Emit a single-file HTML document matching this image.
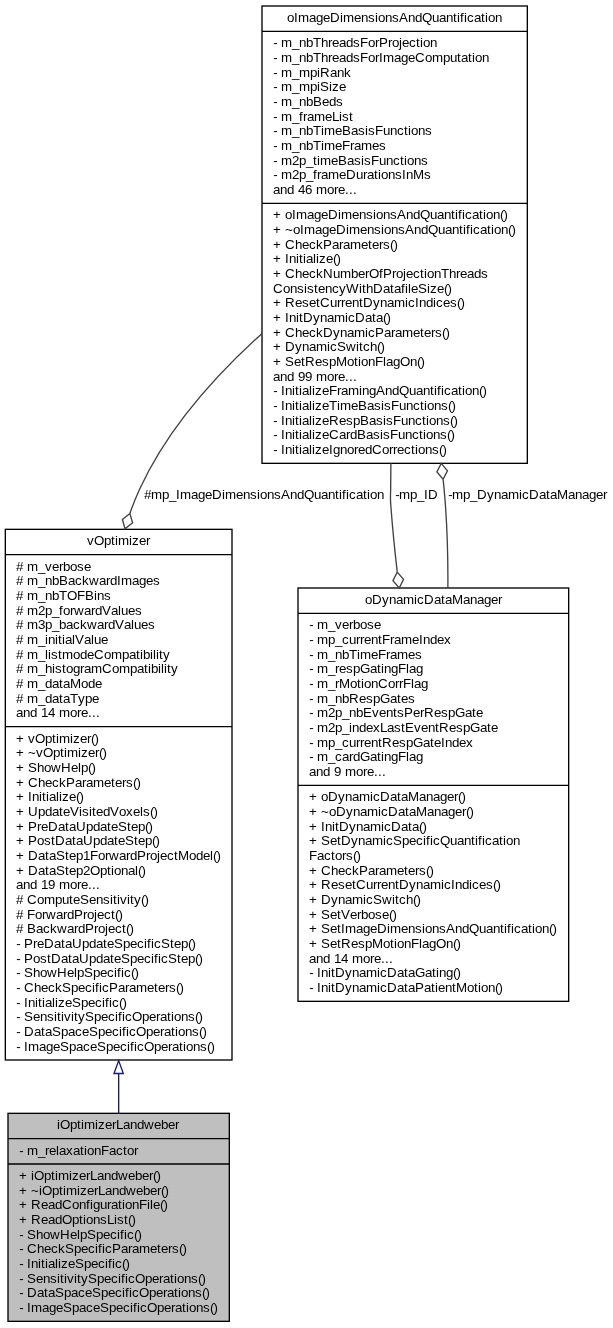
<!DOCTYPE html>
<html lang="en">
<head>
<meta charset="utf-8">
<title>iOptimizerLandweber collaboration graph</title>
<style>
html,body{margin:0;padding:0;background:#fff;}
body{width:613px;height:1328px;overflow:hidden;}
svg{display:block;will-change:transform;}
svg .t{filter:grayscale(1);}
svg text{font-family:"Liberation Sans",sans-serif;font-size:13.333px;fill:#000;white-space:pre;font-kerning:none;font-variant-ligatures:none;}
</style>
</head>
<body>
<svg width="613" height="1328" viewBox="0 0 613 1328">
<rect x="0" y="0" width="613" height="1328" fill="#fff"/>
<g>
<rect x="8.00" y="1113.33" width="221.33" height="208.00" fill="#bfbfbf" stroke="#000" stroke-width="1.333"/>
<line x1="8.00" y1="1138.66" x2="229.33" y2="1138.66" stroke="#000" stroke-width="1.333"/>
<line x1="8.00" y1="1164.00" x2="229.33" y2="1164.00" stroke="#000" stroke-width="1.333"/>
</g>
<g>
<rect x="5.33" y="529.33" width="226.67" height="530.67" fill="#fff" stroke="#000" stroke-width="1.333"/>
<line x1="5.33" y1="554.66" x2="232.00" y2="554.66" stroke="#000" stroke-width="1.333"/>
<line x1="5.33" y1="726.66" x2="232.00" y2="726.66" stroke="#000" stroke-width="1.333"/>
</g>
<g>
<rect x="262.00" y="6.00" width="265.33" height="457.33" fill="#fff" stroke="#000" stroke-width="1.333"/>
<line x1="262.00" y1="31.33" x2="527.33" y2="31.33" stroke="#000" stroke-width="1.333"/>
<line x1="262.00" y1="203.33" x2="527.33" y2="203.33" stroke="#000" stroke-width="1.333"/>
</g>
<g>
<rect x="298.00" y="588.00" width="270.67" height="413.33" fill="#fff" stroke="#000" stroke-width="1.333"/>
<line x1="298.00" y1="613.33" x2="568.67" y2="613.33" stroke="#000" stroke-width="1.333"/>
<line x1="298.00" y1="785.33" x2="568.67" y2="785.33" stroke="#000" stroke-width="1.333"/>
</g>
<g>
<path d="M118.67,1073.5 L118.67,1113.33" fill="none" stroke="#191970" stroke-width="1.333"/>
<polygon points="114.0,1073.5 118.67,1060.6 123.33,1073.5" fill="none" stroke="#191970" stroke-width="1.333"/>
<path d="M 261.83,333.64 C 214.85,376.01 166.93,429.62 139.48,489.56 135.96,497.24 132.80,505.15 129.95,513.21" fill="none" stroke="#404040" stroke-width="1.333"/>
<polygon points="129.94,513.53 122.41,519.51 125.02,528.76 132.55,522.79 129.94,513.53" fill="none" stroke="#404040" stroke-width="1.333"/>
<path d="M 390.89,463.35 C 390.81,471.82 390.73,480.22 390.67,488.46 390.61,495.11 390.19,496.78 390.67,503.41 392.27,525.56 394.53,548.59 397.20,571.56" fill="none" stroke="#404040" stroke-width="1.333"/>
<polygon points="397.27,572.08 392.95,580.67 399.21,587.96 403.53,579.37 397.27,572.08" fill="none" stroke="#404040" stroke-width="1.333"/>
<path d="M 447.88,587.92 C 448.09,554.52 447.07,520.35 444.00,488.16 443.73,485.32 443.44,482.47 443.15,479.61" fill="none" stroke="#404040" stroke-width="1.333"/>
<polygon points="443.11,479.28 447.48,470.72 441.25,463.39 436.88,471.95 443.11,479.28" fill="none" stroke="#404040" stroke-width="1.333"/>
</g>
<g class="t">
<g>
<text x="57 60 70 77 81 84 95 98 105 112 116 123 130 137 144 154 161 168 175" y="1129">iOptimizerLandweber</text>
<text x="19.25 23 27 38 45 49 56 59 66 73 80 84 87 94 101 109 116 123 127 134" y="1155">- m_relaxationFactor</text>
<text x="19 27 31 34 44 51 55 58 69 72 79 86 90 97 104 111 118 128 135 142 149 153 156.5" y="1180">+ iOptimizerLandweber()</text>
<text x="19 27 31 39 42 52 59 63 66 77 80 87 94 98 105 112 119 126 136 143 150 157 161 164.5" y="1195">+ ~iOptimizerLandweber()</text>
<text x="19 27 31 41 48 55 62 72 79 86 90 93 100 107 111 118 122 125 132 139 147 150 153 160 163.5" y="1209">+ ReadConfigurationFile()</text>
<text x="19 27 31 41 48 55 62 72 79 83 86 93 100 107 114 117 124 128 131.5" y="1224">+ ReadOptionsList()</text>
<text x="19.25 23 27 36 43 50 60 70 77 80 87 96 103 110 117 120 124 127 134 137.5" y="1239">- ShowHelpSpecific()</text>
<text x="19.25 23 27 37 44 51 58 65 74 81 88 95 98 102 105 112 121 128 132 139 150 157 161 168 172 179 182.5" y="1253">- CheckSpecificParameters()</text>
<text x="19.25 23 27 31 38 41 45 48 55 58 61 68 75 84 91 98 105 108 112 115 122 125.5" y="1268">- InitializeSpecific()</text>
<text x="19.25 23 27 36 43 50 57 60 64 67 74 77 81 88 97 104 111 118 121 125 128 135 145 152 159 163 170 174 177 184 191 198 201.5" y="1283">- SensitivitySpecificOperations()</text>
<text x="19.25 23 27 37 44 48 55 64 71 78 85 92 101 108 115 122 125 129 132 139 149 156 163 167 174 178 181 188 195 202 205.5" y="1297">- DataSpaceSpecificOperations()</text>
<text x="19.25 23 27 31 42 49 56 63 72 79 86 93 100 109 116 123 130 133 137 140 147 157 164 171 175 182 186 189 196 203 210 213.5" y="1312">- ImageSpaceSpecificOperations()</text>
</g>
<g>
<text x="87 94 104 111 115 118 129 132 139 146" y="545">vOptimizer</text>
<text x="16 23 27 38 45 52 59 63 70 77 84" y="571"># m_verbose</text>
<text x="16 23 27 38 45 52 59 68 75 82 89 99 106 110 117 121 132 139 146 153" y="585"># m_nbBackwardImages</text>
<text x="16 23 27 38 45 52 59 67 77 85 94 97 104" y="600"># m_nbTOFBins</text>
<text x="16 23 27 38 45 52 59 63 70 74 84 91 95 102 111 118 121 128 135" y="615"># m2p_forwardValues</text>
<text x="16 23 27 38 45 52 59 66 73 80 87 97 104 108 115 124 131 134 141 148" y="629"># m3p_backwardValues</text>
<text x="16 23 27 38 45 48 55 58 62 65 72 75 84 91 94 101" y="644"># m_initialValue</text>
<text x="16 23 27 38 45 48 51 58 62 73 80 87 94 104 111 122 129 136 140 143 150 153 156 159 163" y="659"># m_listmodeCompatibility</text>
<text x="16 23 27 38 45 52 55 62 66 73 80 84 91 102 112 119 130 137 144 148 151 158 161 164 167 171" y="673"># m_histogramCompatibility</text>
<text x="16 23 27 38 45 52 59 63 70 81 88 95" y="688"># m_dataMode</text>
<text x="16 23 27 38 45 52 59 63 70 78 85 92" y="703"># m_dataType</text>
<text x="16 23 30 37 41 48 55 59 70 77 81 88 92 96" y="717">and 14 more...</text>
<text x="16 24 28 35 45 52 56 59 70 73 80 87 91 94.5" y="743">+ vOptimizer()</text>
<text x="16 24 28 36 43 53 60 64 67 78 81 88 95 99 102.5" y="757">+ ~vOptimizer()</text>
<text x="16 24 28 37 44 51 61 71 78 81 88 91.5" y="772">+ ShowHelp()</text>
<text x="16 24 28 38 45 52 59 66 75 82 86 93 104 111 115 122 126 133 136.5" y="787">+ CheckParameters()</text>
<text x="16 24 28 32 39 42 46 49 56 59 62 69 76 79.5" y="801">+ Initialize()</text>
<text x="16 24 28 38 45 52 59 63 70 79 82 89 92 96 103 110 119 126 133 140 143 150 153.5" y="816">+ UpdateVisitedVoxels()</text>
<text x="16 24 28 37 41 48 58 65 69 76 86 93 100 107 111 118 127 131 138 145 148.5" y="831">+ PreDataUpdateStep()</text>
<text x="16 24 28 37 44 51 55 65 72 76 83 93 100 107 114 118 125 134 138 145 152 155.5" y="845">+ PostDataUpdateStep()</text>
<text x="16 24 28 38 45 49 56 65 69 76 83 90 98 105 109 119 126 130 137 146 150 157 160 167 174 178 189 196 203 210 213 216.5" y="860">+ DataStep1ForwardProjectModel()</text>
<text x="16 24 28 38 45 49 56 65 69 76 83 90 100 107 111 114 121 128 135 138 141.5" y="875">+ DataStep2Optional()</text>
<text x="16 23 30 37 41 48 55 59 70 77 81 88 92 96" y="889">and 19 more...</text>
<text x="16 23 27 37 44 55 62 69 73 80 89 96 103 110 113 117 120 127 130 134 141 144.5" y="904"># ComputeSensitivity()</text>
<text x="16 23 27 35 42 46 56 63 67 74 83 87 94 97 104 111 115 118.5" y="919"># ForwardProject()</text>
<text x="16 23 27 36 43 50 57 67 74 78 85 94 98 105 108 115 122 126 129.5" y="933"># BackwardProject()</text>
<text x="16.25 20 24 33 37 44 54 61 65 72 82 89 96 103 107 114 123 130 137 144 147 151 154 161 170 174 181 188 191.5" y="948">- PreDataUpdateSpecificStep()</text>
<text x="16.25 20 24 33 40 47 51 61 68 72 79 89 96 103 110 114 121 130 137 144 151 154 158 161 168 177 181 188 195 198.5" y="963">- PostDataUpdateSpecificStep()</text>
<text x="16.25 20 24 33 40 47 57 67 74 77 84 93 100 107 114 117 121 124 131 134.5" y="977">- ShowHelpSpecific()</text>
<text x="16.25 20 24 34 41 48 55 62 71 78 85 92 95 99 102 109 118 125 129 136 147 154 158 165 169 176 179.5" y="992">- CheckSpecificParameters()</text>
<text x="16.25 20 24 28 35 38 42 45 52 55 58 65 72 81 88 95 102 105 109 112 119 122.5" y="1007">- InitializeSpecific()</text>
<text x="16.25 20 24 33 40 47 54 57 61 64 71 74 78 85 94 101 108 115 118 122 125 132 142 149 156 160 167 171 174 181 188 195 198.5" y="1021">- SensitivitySpecificOperations()</text>
<text x="16.25 20 24 34 41 45 52 61 68 75 82 89 98 105 112 119 122 126 129 136 146 153 160 164 171 175 178 185 192 199 202.5" y="1036">- DataSpaceSpecificOperations()</text>
<text x="16.25 20 24 28 39 46 53 60 69 76 83 90 97 106 113 120 127 130 134 137 144 154 161 168 172 179 183 186 193 200 207 210.5" y="1051">- ImageSpaceSpecificOperations()</text>
</g>
<g>
<text x="287 294 298 309 316 323 330 340 343 354 361 368 375 378 385 392 399 408 415 422 432 439 446 453 457 460 464 467 474 481 485 488 495" y="22">oImageDimensionsAndQuantification</text>
<text x="273.25 277 281 292 299 306 313 321 328 332 339 346 353 360 368 375 379 388 392 399 402 409 416 420 423 430" y="47">- m_nbThreadsForProjection</text>
<text x="273.25 277 281 292 299 306 313 321 328 332 339 346 353 360 368 375 379 383 394 401 408 415 425 432 443 450 457 461 468 472 475 482" y="62">- m_nbThreadsForImageComputation</text>
<text x="273.25 277 281 292 299 310 317 320 330 337 344" y="77">- m_mpiRank</text>
<text x="273.25 277 281 292 299 310 317 320 329 332 339" y="91">- m_mpiSize</text>
<text x="273.25 277 281 292 299 306 313 322 329 336" y="106">- m_nbBeds</text>
<text x="273.25 277 281 292 299 303 307 314 325 332 339 342 349" y="121">- m_frameList</text>
<text x="273.25 277 281 292 299 306 313 321 324 335 342 351 358 365 368 375 383 390 397 404 408 411 418 425" y="135">- m_nbTimeBasisFunctions</text>
<text x="273.25 277 281 292 299 306 313 321 324 335 342 350 354 361 372 379" y="150">- m_nbTimeFrames</text>
<text x="273.25 277 281 292 299 306 313 317 320 331 338 347 354 361 364 371 379 386 393 400 404 407 414 421" y="165">- m2p_timeBasisFunctions</text>
<text x="273.25 277 281 292 299 306 313 317 321 328 339 346 356 363 367 374 378 381 388 395 402 406 413 424" y="179">- m2p_frameDurationsInMs</text>
<text x="273 280 287 294 298 305 312 316 327 334 338 345 349 353" y="194">and 46 more...</text>
<text x="273 281 285 292 296 307 314 321 328 338 341 352 359 366 373 376 383 390 397 406 413 420 430 437 444 451 455 458 462 465 472 479 483 486 493 500 503.5" y="219">+ oImageDimensionsAndQuantification()</text>
<text x="273 281 285 293 300 304 315 322 329 336 346 349 360 367 374 381 384 391 398 405 414 421 428 438 445 452 459 463 466 470 473 480 487 491 494 501 508 511.5" y="234">+ ~oImageDimensionsAndQuantification()</text>
<text x="273 281 285 295 302 309 316 323 332 339 343 350 361 368 372 379 383 390 393.5" y="249">+ CheckParameters()</text>
<text x="273 281 285 289 296 299 303 306 313 316 319 326 333 336.5" y="263">+ Initialize()</text>
<text x="273 281 285 295 302 309 316 323 333 340 351 358 365 369 379 383 392 396 403 406 413 420 424 427 434 441 449 456 460 467 474 481" y="278">+ CheckNumberOfProjectionThreads</text>
<text x="273 283 290 297 304 307 314 318 325 332 339 346 359 362 366 373 383 390 394 401 405 408 411 418 427 430 437 444 447.5" y="293">ConsistencyWithDatafileSize()</text>
<text x="273 281 285 295 302 309 316 320 330 337 341 345 352 359 363 373 380 387 394 405 408 415 419 426 433 436 443 450 457 460.5" y="307">+ ResetCurrentDynamicIndices()</text>
<text x="273 281 285 289 296 299 303 313 320 327 334 345 348 355 365 372 376 383 386.5" y="322">+ InitDynamicData()</text>
<text x="273 281 285 295 302 309 316 323 333 340 347 354 365 368 375 384 391 395 402 413 420 424 431 435 442 445.5" y="337">+ CheckDynamicParameters()</text>
<text x="273 281 285 295 302 309 316 327 330 337 346 356 359 363 370 377 380.5" y="351">+ DynamicSwitch()</text>
<text x="273 281 285 294 301 305 315 322 329 336 347 354 358 361 368 375 383 386 393 400 410 417 420.5" y="366">+ SetRespMotionFlagOn()</text>
<text x="273 280 287 294 298 305 312 316 327 334 338 345 349 353" y="381">and 99 more...</text>
<text x="273.25 277 281 285 292 295 299 302 309 312 315 322 329 337 341 348 359 362 369 376 385 392 399 409 416 423 430 434 437 441 444 451 458 462 465 472 479 482.5" y="395">- InitializeFramingAndQuantification()</text>
<text x="273.25 277 281 285 292 295 299 302 309 312 315 322 329 337 340 351 358 367 374 381 384 391 399 406 413 420 424 427 434 441 448 451.5" y="410">- InitializeTimeBasisFunctions()</text>
<text x="273.25 277 281 285 292 295 299 302 309 312 315 322 329 339 346 353 360 369 376 383 386 393 401 408 415 422 426 429 436 443 450 453.5" y="425">- InitializeRespBasisFunctions()</text>
<text x="273.25 277 281 285 292 295 299 302 309 312 315 322 329 339 346 350 357 366 373 380 383 390 398 405 412 419 423 426 433 440 447 450.5" y="439">- InitializeCardBasisFunctions()</text>
<text x="273.25 277 281 285 292 295 299 302 309 312 315 322 329 333 340 347 354 358 365 372 382 389 393 397 404 411 415 418 425 432 439 442.5" y="454">- InitializeIgnoredCorrections()</text>
</g>
<g>
<text x="365 372 382 389 396 403 414 417 424 434 441 445 452 463 470 477 484 491 498" y="604">oDynamicDataManager</text>
<text x="309.25 313 317 328 335 342 349 353 360 367 374" y="629">- m_verbose</text>
<text x="309.25 313 317 328 335 342 349 356 360 364 371 378 382 390 394 401 412 419 423 430 437 444" y="644">- mp_currentFrameIndex</text>
<text x="309.25 313 317 328 335 342 349 357 360 371 378 386 390 397 408 415" y="659">- m_nbTimeFrames</text>
<text x="309.25 313 317 328 335 339 346 353 360 370 377 381 384 391 398 406 409 416" y="673">- m_respGatingFlag</text>
<text x="309.25 313 317 328 335 339 350 357 361 364 371 378 388 395 399 403 411 414 421" y="688">- m_rMotionCorrFlag</text>
<text x="309.25 313 317 328 335 342 349 359 366 373 380 390 397 401 408" y="703">- m_nbRespGates</text>
<text x="309.25 313 317 328 335 342 349 356 363 372 379 386 393 397 404 413 420 424 434 441 448 455 465 472 476" y="717">- m2p_nbEventsPerRespGate</text>
<text x="309.25 313 317 328 335 342 349 352 359 366 373 380 387 394 401 405 414 421 428 435 439 449 456 463 470 480 487 491" y="732">- m2p_indexLastEventRespGate</text>
<text x="309.25 313 317 328 335 342 349 356 360 364 371 378 382 392 399 406 413 423 430 434 441 445 452 459 466" y="747">- mp_currentRespGateIndex</text>
<text x="309.25 313 317 328 335 342 349 353 360 370 377 381 384 391 398 406 409 416" y="761">- m_cardGatingFlag</text>
<text x="309 316 323 330 334 341 345 356 363 367 374 378 382" y="776">and 9 more...</text>
<text x="309 317 321 328 338 345 352 359 370 373 380 390 397 401 408 419 426 433 440 447 454 458 461.5" y="801">+ oDynamicDataManager()</text>
<text x="309 317 321 329 336 346 353 360 367 378 381 388 398 405 409 416 427 434 441 448 455 462 466 469.5" y="816">+ ~oDynamicDataManager()</text>
<text x="309 317 321 325 332 335 339 349 356 363 370 381 384 391 401 408 412 419 422.5" y="831">+ InitDynamicData()</text>
<text x="309 317 321 330 337 341 351 358 365 372 383 386 393 402 409 416 423 426 430 433 440 450 457 464 471 475 478 482 485 492 499 503 506 513" y="845">+ SetDynamicSpecificQuantification</text>
<text x="309 317 324 331 335 342 346 353 356.5" y="860">Factors()</text>
<text x="309 317 321 331 338 345 352 359 368 375 379 386 397 404 408 415 419 426 429.5" y="875">+ CheckParameters()</text>
<text x="309 317 321 331 338 345 352 356 366 373 377 381 388 395 399 409 416 423 430 441 444 451 455 462 469 472 479 486 493 496.5" y="889">+ ResetCurrentDynamicIndices()</text>
<text x="309 317 321 331 338 345 352 363 366 373 382 392 395 399 406 413 416.5" y="904">+ DynamicSwitch()</text>
<text x="309 317 321 330 337 341 350 357 361 368 375 382 389 392.5" y="919">+ SetVerbose()</text>
<text x="309 317 321 330 337 341 345 356 363 370 377 387 390 401 408 415 422 425 432 439 446 455 462 469 479 486 493 500 504 507 511 514 521 528 532 535 542 549 552.5" y="933">+ SetImageDimensionsAndQuantification()</text>
<text x="309 317 321 330 337 341 351 358 365 372 383 390 394 397 404 411 419 422 429 436 446 453 456.5" y="948">+ SetRespMotionFlagOn()</text>
<text x="309 316 323 330 334 341 348 352 363 370 374 381 385 389" y="963">and 14 more...</text>
<text x="309.25 313 317 321 328 331 335 345 352 359 366 377 380 387 397 404 408 415 425 432 436 439 446 453 456.5" y="977">- InitDynamicDataGating()</text>
<text x="309.25 313 317 321 328 331 335 345 352 359 366 377 380 387 397 404 408 415 424 431 435 438 445 452 456 467 474 478 481 488 495 498.5" y="992">- InitDynamicDataPatientMotion()</text>
</g>
<text x="144 151 162 169 176 180 191 198 205 212 222 225 236 243 250 257 260 267 274 281 290 297 304 314 321 328 335 339 342 346 349 356 363 367 370 377" y="499">#mp_ImageDimensionsAndQuantification</text>
<text x="395.25 399 410 417 424 428" y="499">-mp_ID</text>
<text x="448.25 452 463 470 477 487 494 501 508 519 522 529 539 546 550 557 568 575 582 589 596 603" y="499">-mp_DynamicDataManager</text>
</g>
</svg>
</body>
</html>
